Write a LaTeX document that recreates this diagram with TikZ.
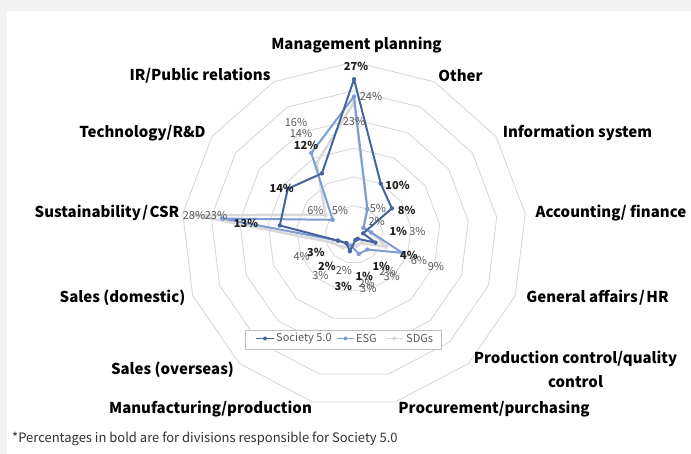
\documentclass[tikz,border=0pt]{standalone}
\usepackage{fontspec}
\setmainfont{Noto Sans CJK JP}
\usetikzlibrary{calc}
\definecolor{socblue}{RGB}{70,100,160}
\definecolor{esgblue}{RGB}{125,155,212}
\definecolor{sdggray}{RGB}{217,217,217}
\definecolor{ringgray}{RGB}{214,214,214}
\definecolor{bggray}{RGB}{242,242,242}
\definecolor{valgray}{RGB}{89,89,89}
\definecolor{valdark}{RGB}{30,30,30}
\definecolor{legborder}{RGB}{191,191,191}
\definecolor{foottext}{RGB}{50,50,50}
\begin{document}
\begin{tikzpicture}[x=1pt,y=-1pt,
  axislabel/.style={font=\bfseries\fontsize{15}{17}\selectfont, text=black, inner sep=0pt},
  valb/.style={font=\bfseries\fontsize{11}{13}\selectfont, text=valdark, inner sep=0pt},
  valg/.style={font=\fontsize{11}{13}\selectfont, text=valgray, inner sep=0pt},
  legtext/.style={font=\fontsize{11}{13}\selectfont, text=valgray, inner sep=0pt, anchor=west},
  ring/.style={draw=ringgray, line width=0.8pt},
  socline/.style={draw=socblue, line width=2pt, line join=round},
  esgline/.style={draw=esgblue, line width=2pt, line join=round},
  sdgline/.style={draw=sdggray, line width=2.5pt, line join=round}
]
\path[use as bounding box] (0,0) rectangle (691,454);
\fill[bggray] (0,0) rectangle (691,454);
\fill[white] (7,11) rectangle (691,454);

\coordinate (c) at (354,234.5);
\begin{scope}[shift={(c)}]
  \foreach \r in {1,...,6}{
    \draw[ring] (-90:{\r*28.75}) \foreach \k in {1,...,12}{ -- ({\k*360/13-90}:{\r*28.75}) } -- cycle;
  }
  \foreach \v [count=\i from 0] in {27,10,8,1.6,4,1,1,3,2,3,13,14,12}
    \coordinate (s\i) at ({\i*360/13-90}:{\v*5.75});
  \foreach \v [count=\i from 0] in {24,5,2,3,9,3.5,3.5,2,2,3,23,4.5,16}
    \coordinate (e\i) at ({\i*360/13-90}:{\v*5.75});
  \foreach \v [count=\i from 0] in {23,5,2,3,6,2,2,2,3,4,28,6,14}
    \coordinate (g\i) at ({\i*360/13-90}:{\v*5.75});
\end{scope}

\draw[sdgline] (g0) -- (g1) -- (g2) -- (g3) -- (g4) -- (g5) -- (g6) -- (g7) -- (g8) -- (g9) -- (g10) -- (g11) -- (g12) -- cycle;
\foreach \i in {0,...,12} \fill[sdggray] (g\i) circle (2.2);
\draw[esgline] (e0) -- (e1) -- (e2) -- (e3) -- (e4) -- (e5) -- (e6) -- (e7) -- (e8) -- (e9) -- (e10) -- (e11) -- (e12) -- cycle;
\foreach \i in {0,...,12} \fill[esgblue] (e\i) circle (2.2);
\draw[socline] (s0) -- (s1) -- (s2) -- (s3) -- (s4) -- (s5) -- (s6) -- (s7) -- (s8) -- (s9) -- (s10) -- (s11) -- (s12) -- cycle;
\foreach \i in {0,...,12} \fill[socblue] (s\i) circle (2.2);

% value labels (ESG / SDGs)
\foreach \x/\y/\t [count=\n] in {371/96.7/24\%, 354/121/23\%, 296/122/16\%, 301/133/14\%,
  315.5/210.7/6\%, 340/210.7/5\%, 194/215.7/28\%, 216/215.7/23\%, 378/208.3/5\%,
  376.7/221.7/2\%, 417.5/231/3\%, 419/260/6\%, 436/266/9\%, 301.7/256.7/4\%,
  320.5/275.7/3\%, 344/270.7/2\%, 387.5/271.7/2\%, 391.7/276.7/3\%, 366.7/283.3/2\%, 368.3/288.3/3\%}
  \node[valg] (vg\n) at (\x,\y) {\t};
% value labels (Society 5.0, bold)
\foreach \x/\y/\t [count=\n] in {356/66.7/27\%, 397.5/185/10\%, 406.7/210.7/8\%, 398.3/231/1\%,
  409/255/4\%, 381.3/266.7/1\%, 364.3/276.7/1\%, 343.3/286.7/3\%, 327/266.7/2\%,
  316/252.7/3\%, 246/223.3/13\%, 281.7/188/14\%, 306/145/12\%}
  \node[valb] (vb\n) at (\x,\y) {\t};

% axis labels
\node[axislabel] (lmgmt) at (356.5,45) {Management planning};
\node[axislabel] (loth) at (460.5,76) {Other};
\node[axislabel] (linfo) at (577.5,133) {Information system};
\node[axislabel] (lacc) at (611,213) {Accounting/ finance};
\node[axislabel] (lga) at (597.5,298) {General affairs\kern1.5pt/\kern1.5pt HR};
\node[axislabel, align=center, font=\bfseries\fontsize{15}{24}\selectfont] (lprod) at (575.5,369) {Production control/quality\\control};
\node[axislabel] (lproc) at (494,409) {Procurement/purchasing};
\node[axislabel] (lmanu) at (210.5,409) {Manufacturing/production};
\node[axislabel] (lso) at (172.5,370) {Sales (overseas)};
\node[axislabel] (lsd) at (122.5,298) {Sales (domestic)};
\node[axislabel] (lsus) at (107,213) {Sustainability\kern1.5pt/\kern1.5pt CSR};
\node[axislabel] (ltech) at (142.5,133) {Technology/R\&D};
\node[axislabel] (lir) at (200,76) {IR/Public relations};

% legend
\node[draw=legborder, fill=white, line width=0.8pt, minimum width=196pt, minimum height=19pt, inner sep=0pt] (legend) at (343,339.5) {};
\coordinate (la1) at (256,338.5); \coordinate (la2) at (274,338.5);
\draw[socline, line width=1.6pt] (la1) -- (la2);
\fill[socblue] ($(la1)!0.5!(la2)$) circle (2);
\node[legtext] (lt1) at (276,338.5) {Society 5.0};
\coordinate (lb1) at (337,338.5); \coordinate (lb2) at (354,338.5);
\draw[esgline, line width=1.6pt] (lb1) -- (lb2);
\fill[esgblue] ($(lb1)!0.5!(lb2)$) circle (2);
\node[legtext] (lt2) at (356,338.5) {ESG};
\coordinate (lc1) at (386,338.5); \coordinate (lc2) at (403,338.5);
\draw[sdgline, line width=1.6pt] (lc1) -- (lc2);
\fill[sdggray] ($(lc1)!0.5!(lc2)$) circle (2);
\node[legtext] (lt3) at (406,338.5) {SDGs};

% footnote
\node[anchor=west, inner sep=0pt, font=\fontsize{13}{15}\selectfont, text=foottext] (foot) at (12,439) {*Percentages in bold are for divisions responsible for Society 5.0};
\end{tikzpicture}
\end{document}
